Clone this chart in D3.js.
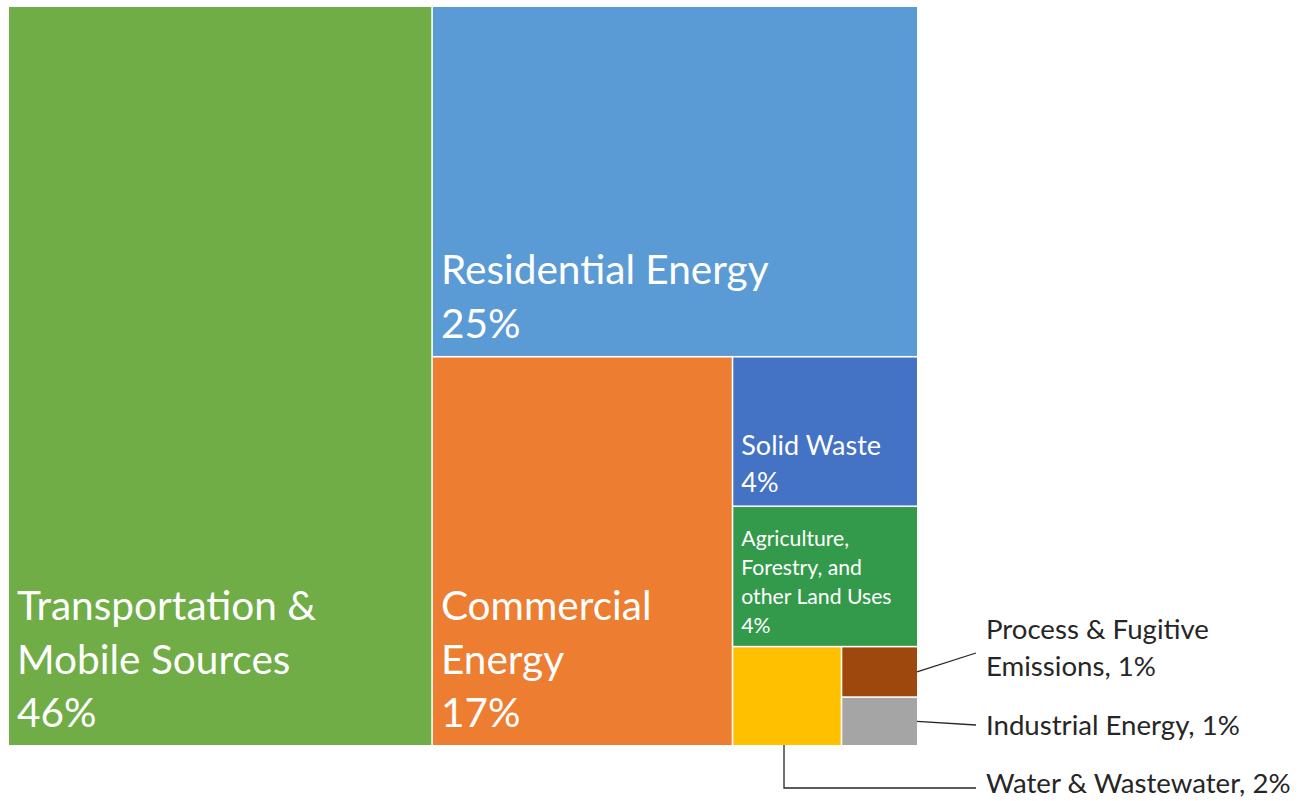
<!DOCTYPE html>
<html>
<head>
<meta charset="utf-8">
<script src="https://cdn.jsdelivr.net/npm/d3@7"></script>
<style>
  html, body { margin: 0; padding: 0; background: #fff; }
  svg { display: block; }
  text { font-family: Lato, "Open Sans", sans-serif; }
</style>
</head>
<body>
<svg id="chart" width="1302" height="801"></svg>
<script>
// ---- data ----
const categories = [
  "Transportation & Mobile Sources",
  "Residential Energy",
  "Commercial Energy",
  "Solid Waste",
  "Agriculture, Forestry, and other Land Uses",
  "Water & Wastewater",
  "Process & Fugitive Emissions",
  "Industrial Energy"
];
const values = [46.4, 25.2, 17.3, 4.1, 3.85, 1.6, 0.57, 0.55];
const pctLabels = ["46%", "25%", "17%", "4%", "4%", "2%", "1%", "1%"];
const insideLines = [
  ["Transportation &", "Mobile Sources"],
  ["Residential Energy"],
  ["Commercial", "Energy"],
  ["Solid Waste"],
  ["Agriculture,", "Forestry, and", "other Land Uses"],
  null, null, null
];
const calloutLines = [
  null, null, null, null, null,
  ["Water & Wastewater, 2%"],
  ["Process & Fugitive", "Emissions, 1%"],
  ["Industrial Energy, 1%"]
];
const colors = ["#70AD47", "#5B9BD5", "#ED7D31", "#4472C4", "#349A4B", "#FFC000", "#9E480E", "#A5A5A5"];

// ---- layout ----
const svg = d3.select("#chart");
const X0 = 9, Y0 = 7, X1 = 917, Y1 = 745;
const color = d3.scaleOrdinal().domain(categories).range(colors);

const rootData = { name: "root", children: categories.map((c, i) => ({ name: c, value: values[i], idx: i })) };
const root = d3.hierarchy(rootData).sum(d => d.value || 0);
d3.treemap()
  .tile(d3.treemapSquarify.ratio(1))
  .size([X1 - X0, Y1 - Y0])
  .paddingInner(1.6)
  .round(false)(root);

const leaves = root.leaves();
const plot = svg.append("g").attr("transform", `translate(${X0},${Y0})`);

plot.append("g").selectAll("rect").data(leaves).join("rect")
  .attr("x", d => d.x0).attr("y", d => d.y0)
  .attr("width", d => d.x1 - d.x0).attr("height", d => d.y1 - d.y0)
  .attr("fill", d => color(d.data.name));

// inside labels: bottom-left
function sizeFor(d) {
  const a = (d.x1 - d.x0) * (d.y1 - d.y0);
  if (a > 100000) return { fs: 40.6, lh: 53.5, bottom: 18 };
  if (d.data.idx === 3) return { fs: 27, lh: 37, bottom: 13 };
  return { fs: 21.2, lh: 29, bottom: 13 };
}
const lg = plot.append("g");
leaves.forEach(d => {
  const lines = insideLines[d.data.idx];
  if (!lines) return;
  const all = lines.concat([pctLabels[d.data.idx]]);
  const s = sizeFor(d);
  const n = all.length;
  const t = lg.append("text").attr("fill", "#fff").attr("font-size", s.fs);
  all.forEach((line, i) => {
    t.append("tspan")
      .attr("x", d.x0 + 8)
      .attr("y", d.y1 - s.bottom - (n - 1 - i) * s.lh)
      .text(line);
  });
});

// callouts (in page coordinates)
const cg = svg.append("g");
const cfs = 27.6, clh = 37;
const tx = 986;
leaves.forEach(d => {
  const lines = calloutLines[d.data.idx];
  if (!lines) return;
  const idx = d.data.idx;
  const x0 = d.x0 + X0, x1 = d.x1 + X0, y0 = d.y0 + Y0, y1 = d.y1 + Y0;
  let baseY, pts;
  if (idx === 5) {          // water: down and right
    const cx = (x0 + x1) / 2 - 3;
    baseY = 793;
    pts = [[cx, y1], [cx, 788], [976, 788]];
  } else if (idx === 6) {   // process
    baseY = 639;
    pts = [[x1, (y0 + y1) / 2], [976, 653]];
  } else {                  // industrial
    baseY = 735;
    pts = [[x1, (y0 + y1) / 2], [976, 725]];
  }
  cg.append("path")
    .attr("d", d3.line()(pts))
    .attr("fill", "none").attr("stroke", "#262626").attr("stroke-width", 1.3);
  const t = cg.append("text").attr("fill", "#262626").attr("font-size", cfs);
  lines.forEach((line, i) => {
    t.append("tspan").attr("x", tx).attr("y", baseY + i * clh).text(line);
  });
});
</script>
</body>
</html>
